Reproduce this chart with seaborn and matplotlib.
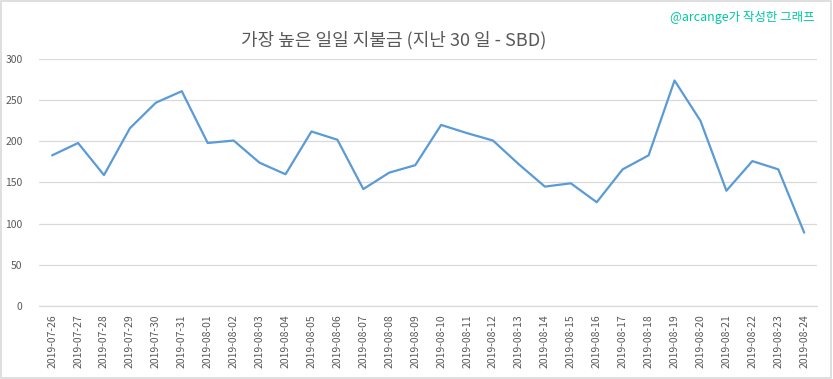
import numpy as np
import pandas as pd
import matplotlib.pyplot as plt
import seaborn as sns
from matplotlib.patches import Rectangle

# dates and highest daily payout (SBD)
dates = ["2019-07-26", "2019-07-27", "2019-07-28", "2019-07-29", "2019-07-30",
         "2019-07-31", "2019-08-01", "2019-08-02", "2019-08-03", "2019-08-04",
         "2019-08-05", "2019-08-06", "2019-08-07", "2019-08-08", "2019-08-09",
         "2019-08-10", "2019-08-11", "2019-08-12", "2019-08-13", "2019-08-14",
         "2019-08-15", "2019-08-16", "2019-08-17", "2019-08-18", "2019-08-19",
         "2019-08-20", "2019-08-21", "2019-08-22", "2019-08-23", "2019-08-24"]
payout = [183, 198, 159, 216, 247, 261, 198, 201, 174, 160,
          212, 202, 142, 162, 171, 220, 210, 201, 172, 145,
          149, 126, 166, 183, 274, 225, 140, 176, 166, 89]
yticks = [0, 50, 100, 150, 200, 250, 300]

title = "가장 높은 일일 지불금 (지난 30 일 - SBD)"
credit = "@arcange가 작성한 그래프"

df = pd.DataFrame({"date": dates, "payout": payout})

sns.set_style("white")
plt.rcParams['font.family'] = ['Noto Sans CJK KR', 'DejaVu Sans']

fig = plt.figure(figsize=(8.33, 3.79), dpi=100)
ax = fig.add_axes([0.047, 0.193, 0.934, 0.651])

sns.lineplot(data=df, x="date", y="payout", ax=ax, color="#5B9BD5",
             linewidth=1.6, sort=False)

ax.set_xlim(-0.5, len(dates) - 0.5)
ax.set_ylim(0, 300)
ax.set_yticks(yticks)
ax.yaxis.grid(True, color="#d9d9d9", linewidth=0.9)
ax.set_axisbelow(True)
for s in ax.spines.values():
    s.set_visible(False)
# the zero line sits on the axes edge, draw it in full
ax.axhline(0, color="#d9d9d9", linewidth=0.9, clip_on=False, zorder=0)
ax.set_xlabel("")
ax.set_ylabel("")
ax.tick_params(axis="both", length=0, colors="#595959", labelsize=7.5)
ax.tick_params(axis="x", pad=6)
ax.tick_params(axis="y", pad=12)
plt.setp(ax.get_xticklabels(), rotation=90)

# title and credit line
fig.text(0.473, 0.894, title, ha="center", va="center", fontsize=13,
         color="#595959", fontweight="light")
fig.text(0.978, 0.955, credit, ha="right", va="center", fontsize=9,
         color="#00C8A0")

# light frame round the chart
fig.patches.append(Rectangle((0.001, 0.002), 0.997, 0.995, transform=fig.transFigure,
                             fill=False, edgecolor="#d9d9d9", linewidth=1.2))

fig.savefig("out.png", dpi=100)
plt.close()
